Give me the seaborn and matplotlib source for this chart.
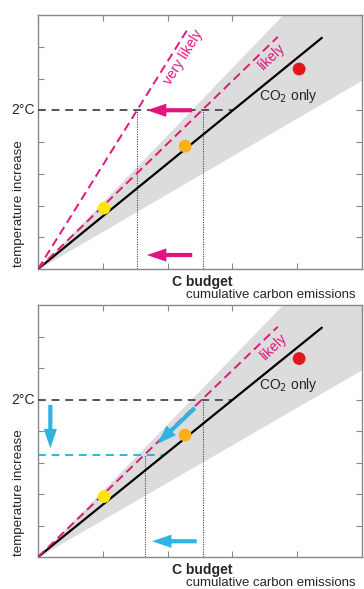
import matplotlib
matplotlib.use("Agg")
import matplotlib.pyplot as plt
import seaborn as sns

# ---- data ----
band_x = [0, 5]
band_low = [0, 5.95]
band_high = [0, 10.6]
co2_x = [0, 4.38]
co2_y = [0, 7.28]
likely_x = [0, 3.70]
likely_y = [0, 7.31]
very_likely_x = [0, 2.33]
very_likely_y = [0, 7.62]
target_2c = 5.0
co2_at_2c = 3.01
budget_top = [1.53, 2.54]
lower_target = 3.24
budget_bottom = [1.65, 2.54]
dot_x = [1.02, 2.27, 4.03]
dot_y = [1.92, 3.87, 6.30]
dot_colors = ["#ffe40a", "#fbb116", "#e3161b"]
x_ticks = [1, 2, 3, 4]
y_ticks = [1, 2, 3, 4, 5, 6, 7]

MAGENTA = "#e0167e"
CYAN = "#2fb4e2"
BAND = "#dcdcdc"
SPINE = "#888888"

sns.set_style("white")
plt.rcParams["font.family"] = ["Liberation Sans", "DejaVu Sans"]

fig = plt.figure(figsize=(3.64, 5.89), dpi=100)
W, H = 364, 589
ax_top = fig.add_axes([38 / W, (H - 269) / H, 324 / W, 254 / H])
ax_bot = fig.add_axes([38 / W, (H - 557) / H, 324 / W, 252 / H])


def style_axes(ax):
    ax.set_xlim(0, 5)
    ax.set_ylim(0, 8)
    ax.set_xticks(x_ticks)
    ax.set_yticks(y_ticks)
    ax.set_xticklabels([])
    ax.set_yticklabels([])
    ax.tick_params(direction="in", length=4, width=0.8, color=SPINE,
                   top=True, right=True, bottom=True, left=True)
    for s in ax.spines.values():
        s.set_color(SPINE)
        s.set_linewidth(1.0)
        s.set_visible(True)
    ax.set_xlabel("")
    ax.set_ylabel("")


def arrow(ax, start, end, color):
    ax.annotate("", xy=end, xytext=start, zorder=6,
                arrowprops=dict(facecolor=color, edgecolor="none",
                                width=3.0, headwidth=9.5, headlength=14, shrink=0))


def common(ax):
    ax.fill_between(band_x, band_low, band_high, color=BAND, lw=0, zorder=1)
    sns.lineplot(x=co2_x, y=co2_y, ax=ax, color="black", lw=1.6, zorder=4)
    ax.plot([0, co2_at_2c], [target_2c, target_2c], color="#555555", lw=1.4,
            linestyle=(0, (4, 3)), zorder=3)
    sns.scatterplot(x=dot_x, y=dot_y, hue=list(range(3)), palette=dot_colors,
                    s=85, edgecolor="none", legend=False, ax=ax, zorder=7)
    ax.text(3.87, 5.45, "CO$_2$ only", fontsize=10, ha="center", va="center", zorder=8)
    ax.text(-0.05, target_2c, "2°C", fontsize=10, ha="right", va="center")
    ax.text(-0.29, 2.05, "temperature increase", fontsize=9.6, rotation=90,
            ha="center", va="center")
    ax.text(2.54, -0.42, "C budget", fontsize=10, fontweight="bold",
            ha="center", va="center", clip_on=False)
    ax.text(2.28, -0.83, "cumulative carbon emissions", fontsize=9.5,
            ha="left", va="center", clip_on=False)


# ---- top panel ----
ax = ax_top
common(ax)
sns.lineplot(x=likely_x, y=likely_y, ax=ax, color=MAGENTA, lw=1.4,
             linestyle=(0, (4.5, 2.5)), zorder=5)
sns.lineplot(x=very_likely_x, y=very_likely_y, ax=ax, color=MAGENTA, lw=1.4,
             linestyle=(0, (4.5, 2.5)), zorder=5)
ax.vlines(budget_top, 0, target_2c, colors="#444444", lw=0.8,
          linestyles=(0, (1, 1.2)), zorder=3)
arrow(ax, (2.38, target_2c), (1.68, target_2c), MAGENTA)
arrow(ax, (2.38, 0.44), (1.68, 0.44), MAGENTA)
ax.text(2.25, 6.68, "very likely", color=MAGENTA, fontsize=10, rotation=58,
        ha="center", va="center", rotation_mode="anchor")
ax.text(3.60, 6.68, "likely", color=MAGENTA, fontsize=10, rotation=44,
        ha="center", va="center", rotation_mode="anchor")
style_axes(ax)

# ---- bottom panel ----
ax = ax_bot
common(ax)
sns.lineplot(x=likely_x, y=likely_y, ax=ax, color=MAGENTA, lw=1.4,
             linestyle=(0, (4.5, 2.5)), zorder=5)
ax.plot([0, 1.93], [lower_target, lower_target], color=CYAN, lw=1.4,
        linestyle=(0, (4, 3)), zorder=3)
ax.vlines([budget_bottom[0]], 0, lower_target, colors="#444444", lw=0.8,
          linestyles=(0, (1, 1.2)), zorder=3)
ax.vlines([budget_bottom[1]], 0, target_2c, colors="#444444", lw=0.8,
          linestyles=(0, (1, 1.2)), zorder=3)
arrow(ax, (0.19, 4.83), (0.19, 3.45), CYAN)
arrow(ax, (2.42, 4.73), (1.84, 3.59), CYAN)
arrow(ax, (2.45, 0.5), (1.76, 0.5), CYAN)
ax.text(3.63, 6.67, "likely", color=MAGENTA, fontsize=10, rotation=44,
        ha="center", va="center", rotation_mode="anchor")
style_axes(ax)

fig.savefig("out.png", dpi=100)
